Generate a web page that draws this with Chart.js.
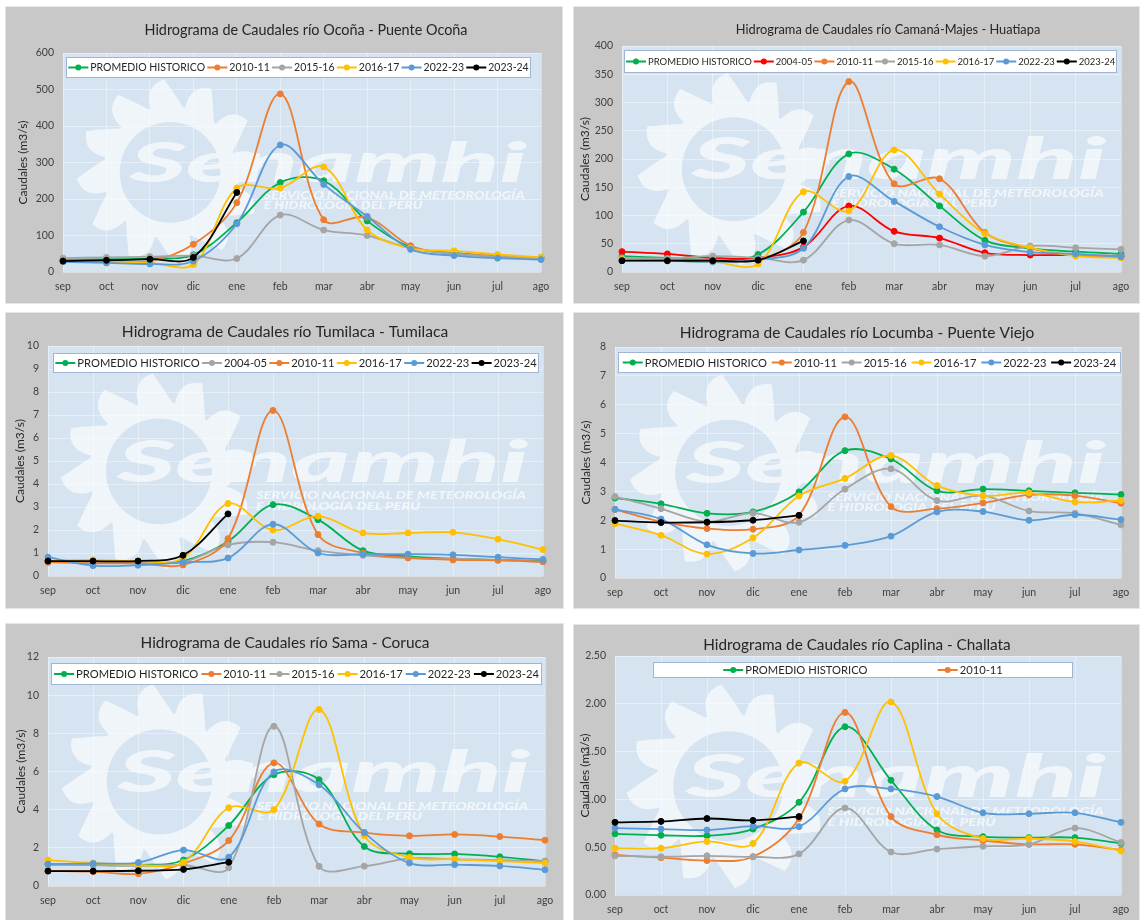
<!DOCTYPE html>
<html>
<head>
<meta charset="utf-8">
<script src="https://cdn.jsdelivr.net/npm/chart.js@4.4.1/dist/chart.umd.min.js"></script>
<style>
  html, body { margin: 0; padding: 0; background: #fff; }
  body { width: 1140px; height: 920px; position: relative; overflow: hidden; }
  .panel { position: absolute; background: #c8c8c8; box-shadow: 0 0 0 1px #e6e6e6; }
  .panel canvas { display: block; }
</style>
</head>
<body>
<script>
const months = ['sep', 'oct', 'nov', 'dic', 'ene', 'feb', 'mar', 'abr', 'may', 'jun', 'jul', 'ago'];

// río Ocoña - Puente Ocoña
const ocoTicks    = [0, 100, 200, 300, 400, 500, 600];
const ocoPromedio = [33, 35, 37, 47, 135, 245, 250, 140, 68, 52, 43, 40];
const oco2010     = [32, 30, 30, 76, 190, 488, 143, 150, 72, 50, 45, 38];
const oco2015     = [38, 40, 42, 45, 37, 156, 115, 100, 65, 50, 42, 38];
const oco2016     = [30, 28, 25, 20, 230, 230, 288, 115, 65, 58, 48, 40];
const oco2022     = [28, 25, 22, 30, 132, 348, 240, 152, 62, 45, 38, 34];
const oco2023     = [30, 32, 35, 40, 218, null, null, null, null, null, null, null];

// río Camaná-Majes - Huatiapa
const camTicks    = [0, 50, 100, 150, 200, 250, 300, 350, 400];
const camPromedio = [28, 25, 22, 31, 106, 209, 182, 117, 56, 42, 36, 32];
const cam2004     = [36, 32, 25, 25, 44, 117, 72, 60, 34, 30, 30, 28];
const cam2010     = [22, 22, 22, 22, 70, 337, 156, 165, 70, 42, 30, 28];
const cam2015     = [25, 24, 28, 25, 21, 92, 50, 48, 28, 46, 43, 40];
const cam2016     = [22, 20, 18, 14, 142, 108, 216, 138, 68, 43, 28, 25];
const cam2022     = [20, 20, 18, 22, 42, 169, 125, 80, 48, 35, 32, 27];
const cam2023     = [20, 20, 20, 21, 55, null, null, null, null, null, null, null];

// río Tumilaca - Tumilaca
const tumTicks    = [0, 1, 2, 3, 4, 5, 6, 7, 8, 9, 10];
const tumPromedio = [0.65, 0.6, 0.6, 0.65, 1.5, 3.1, 2.45, 1.1, 0.85, 0.75, 0.7, 0.65];
const tum2004     = [0.6, 0.6, 0.6, 0.6, 1.35, 1.47, 1.1, 0.9, 0.78, 0.75, 0.7, 0.62];
const tum2010     = [0.6, 0.55, 0.55, 0.48, 1.62, 7.2, 1.8, 1.0, 0.8, 0.7, 0.68, 0.62];
const tum2016     = [0.68, 0.7, 0.65, 0.78, 3.15, 2.0, 2.6, 1.87, 1.87, 1.9, 1.6, 1.15];
const tum2022     = [0.82, 0.45, 0.47, 0.6, 0.78, 2.25, 1.0, 0.95, 0.95, 0.92, 0.82, 0.72];
const tum2023     = [0.65, 0.65, 0.65, 0.9, 2.7, null, null, null, null, null, null, null];

// río Locumba - Puente Viejo
const locTicks    = [0, 1, 2, 3, 4, 5, 6, 7, 8];
const locPromedio = [2.77, 2.57, 2.24, 2.29, 2.98, 4.41, 4.12, 3.02, 3.08, 3.02, 2.95, 2.89];
const loc2010     = [2.37, 1.95, 1.71, 1.69, 2.17, 5.58, 2.47, 2.4, 2.6, 2.88, 2.85, 2.59];
const loc2015     = [2.82, 2.4, 1.95, 2.25, 1.93, 3.08, 3.78, 2.68, 2.85, 2.32, 2.24, 1.84];
const loc2016     = [1.88, 1.48, 0.83, 1.39, 2.84, 3.45, 4.24, 3.2, 2.85, 2.95, 2.63, 2.68];
const loc2022     = [2.38, 2.04, 1.15, 0.85, 0.97, 1.13, 1.45, 2.29, 2.3, 2.0, 2.19, 2.02];
const loc2023     = [1.99, 1.92, 1.93, 2.0, 2.17, null, null, null, null, null, null, null];

// río Sama - Coruca
const samTicks    = [0, 2, 4, 6, 8, 10, 12];
const samPromedio = [1.15, 1.1, 1.1, 1.36, 3.17, 5.83, 5.57, 2.07, 1.69, 1.68, 1.53, 1.3];
const sam2010     = [0.8, 0.75, 0.64, 1.18, 2.38, 6.45, 3.25, 2.8, 2.63, 2.7, 2.59, 2.4];
const sam2015     = [1.1, 1.1, 1.05, 1.1, 0.96, 8.37, 1.03, 1.04, 1.45, 1.4, 1.35, 1.3];
const sam2016     = [1.36, 1.2, 1.1, 1.25, 4.1, 4.0, 9.25, 2.64, 1.5, 1.4, 1.3, 1.2];
const sam2022     = [1.15, 1.18, 1.23, 1.88, 1.51, 5.98, 5.3, 2.8, 1.2, 1.12, 1.05, 0.85];
const sam2023     = [0.78, 0.78, 0.8, 0.87, 1.25, null, null, null, null, null, null, null];

// río Caplina - Challata
const capTicks    = [0, 0.5, 1, 1.5, 2, 2.5];
const capPromedio = [0.64, 0.625, 0.62, 0.69, 0.97, 1.76, 1.2, 0.68, 0.61, 0.6, 0.6, 0.54];
const cap2010     = [0.42, 0.39, 0.36, 0.4, 0.8, 1.91, 0.82, 0.63, 0.57, 0.53, 0.53, 0.47];
const cap2015     = [0.41, 0.4, 0.41, 0.4, 0.43, 0.91, 0.45, 0.48, 0.51, 0.53, 0.7, 0.55];
const cap2016     = [0.49, 0.49, 0.56, 0.54, 1.38, 1.19, 2.02, 0.85, 0.59, 0.59, 0.56, 0.46];
const cap2022     = [0.7, 0.69, 0.68, 0.72, 0.715, 1.11, 1.11, 1.03, 0.86, 0.85, 0.86, 0.76];
const cap2023     = [0.76, 0.77, 0.8, 0.78, 0.82, null, null, null, null, null, null, null];

// colores tipo Excel
const VERDE = '#00b050', ROJO = '#ff0000', NARANJA = '#ed7d31', GRIS = '#a5a5a5',
      AMARILLO = '#ffc000', AZUL = '#5b9bd5', NEGRO = '#000000';
const FUENTE = 'Lato, "Noto Sans", sans-serif';
const TEXTO = '#404040';
const REJILLA = 'rgba(255,255,255,0.4)';

// cajas: [x1, y1, x2, y2] en la página
const paneles = [
  { titulo: 'Hidrograma de Caudales río Ocoña - Puente Ocoña', ticks: ocoTicks,
    caja: [6, 7, 562, 303], area: [63, 53, 541, 272], tituloX: 306, tituloY: 30, tituloFs: 14.4, ejeX: 23,
    leyenda: [66, 57, 531, 78], leyendaFs: 10.5, enLeyenda: 6,
    series: [['PROMEDIO HISTORICO', ocoPromedio, VERDE], ['2010-11', oco2010, NARANJA],
             ['2015-16', oco2015, GRIS], ['2016-17', oco2016, AMARILLO],
             ['2022-23', oco2022, AZUL], ['2023-24', oco2023, NEGRO]] },
  { titulo: 'Hidrograma de Caudales río Camaná-Majes - Huatiapa', ticks: camTicks,
    caja: [574, 7, 1139, 303], area: [622, 46, 1121, 272], tituloX: 888, tituloY: 30, tituloFs: 12.8, ejeX: 585,
    leyenda: [624, 50, 1117, 73], leyendaFs: 9.5, enLeyenda: 7,
    series: [['PROMEDIO HISTORICO', camPromedio, VERDE], ['2004-05', cam2004, ROJO],
             ['2010-11', cam2010, NARANJA], ['2015-16', cam2015, GRIS],
             ['2016-17', cam2016, AMARILLO], ['2022-23', cam2022, AZUL],
             ['2023-24', cam2023, NEGRO]] },
  { titulo: 'Hidrograma de Caudales río Tumilaca - Tumilaca', ticks: tumTicks,
    caja: [6, 313, 563, 608], area: [48, 346, 543, 576], tituloX: 285, tituloY: 332, tituloFs: 15.6, ejeX: 20,
    leyenda: [53, 353, 539, 373], leyendaFs: 11.2, enLeyenda: 6,
    series: [['PROMEDIO HISTORICO', tumPromedio, VERDE], ['2004-05', tum2004, GRIS],
             ['2010-11', tum2010, NARANJA], ['2016-17', tum2016, AMARILLO],
             ['2022-23', tum2022, AZUL], ['2023-24', tum2023, NEGRO]] },
  { titulo: 'Hidrograma de Caudales río Locumba - Puente Viejo', ticks: locTicks,
    caja: [574, 313, 1139, 608], area: [615, 347, 1121, 578], tituloX: 857, tituloY: 333, tituloFs: 15.5, ejeX: 586,
    leyenda: [618, 352, 1121, 373], leyendaFs: 11.2, enLeyenda: 6,
    series: [['PROMEDIO HISTORICO', locPromedio, VERDE], ['2010-11', loc2010, NARANJA],
             ['2015-16', loc2015, GRIS], ['2016-17', loc2016, AMARILLO],
             ['2022-23', loc2022, AZUL], ['2023-24', loc2023, NEGRO]] },
  { titulo: 'Hidrograma de Caudales río Sama - Coruca', ticks: samTicks,
    caja: [6, 624, 563, 920], area: [48, 657, 545, 886], tituloX: 285, tituloY: 643, tituloFs: 15.4, ejeX: 21,
    leyenda: [51, 663, 542, 685], leyendaFs: 11.2, enLeyenda: 6,
    series: [['PROMEDIO HISTORICO', samPromedio, VERDE], ['2010-11', sam2010, NARANJA],
             ['2015-16', sam2015, GRIS], ['2016-17', sam2016, AMARILLO],
             ['2022-23', sam2022, AZUL], ['2023-24', sam2023, NEGRO]] },
  { titulo: 'Hidrograma de Caudales río Caplina - Challata', ticks: capTicks, decimales: 2,
    caja: [574, 625, 1139, 920], area: [615, 656, 1121, 895], tituloX: 857, tituloY: 645, tituloFs: 15.3, ejeX: 585,
    leyenda: [653, 662, 1073, 678], leyendaFs: 11.2, enLeyenda: 2,
    series: [['PROMEDIO HISTORICO', capPromedio, VERDE], ['2010-11', cap2010, NARANJA],
             ['2015-16', cap2015, GRIS], ['2016-17', cap2016, AMARILLO],
             ['2022-23', cap2022, AZUL], ['2023-24', cap2023, NEGRO]] },
];

// marca de agua Senamhi (aprox.), dibujada opaca y luego con transparencia
function marcaAgua(chart) {
  const a = chart.chartArea;
  const w = a.right - a.left, h = a.bottom - a.top;
  const off = document.createElement('canvas');
  off.width = chart.width; off.height = chart.height;
  const c = off.getContext('2d');
  c.fillStyle = '#fff'; c.strokeStyle = '#fff';

  // sol: llamas + anillo con hueco
  const cx = a.left + 0.224 * w, cy = a.top + 0.545 * h, r = 0.23 * h;
  for (let i = 0; i < 12; i++) {
    c.save();
    c.translate(cx, cy);
    c.rotate(-Math.PI / 2 + i * Math.PI / 6);
    c.beginPath();
    c.moveTo(r * 1.2, -r * 0.36);
    c.quadraticCurveTo(r * 1.7, -r * 0.55, r * 1.85, -r * 0.12);
    c.quadraticCurveTo(r * 1.55, r * 0.1, r * 1.2, r * 0.32);
    c.closePath();
    c.fill();
    c.restore();
  }
  c.beginPath();
  c.arc(cx, cy, r * 1.32, 0, Math.PI * 2);
  c.arc(cx, cy, r, 0, Math.PI * 2, true);
  c.fill('evenodd');

  const fs = 0.25 * h;
  c.font = `italic 900 ${fs}px ${FUENTE}`;
  const tw = c.measureText('Senamhi').width;
  c.save();
  c.translate(a.left + 0.14 * w, a.top + 0.59 * h);
  c.scale((0.83 * w) / tw, 1);
  c.fillText('Senamhi', 0, 0);
  c.restore();

  const fs2 = 0.048 * h;
  c.font = `italic 900 ${fs2}px ${FUENTE}`;
  const l1 = 'SERVICIO NACIONAL DE METEOROLOGÍA';
  const w1 = c.measureText(l1).width;
  c.save();
  c.translate(a.left + 0.42 * w, a.top + 0.667 * h);
  c.scale((0.546 * w) / w1, 1);
  c.fillText(l1, 0, 0);
  c.fillText('E HIDROLOGÍA DEL PERÚ', 0, 0.045 * h);
  c.restore();

  const ctx = chart.ctx;
  ctx.save();
  ctx.globalAlpha = 0.65;
  ctx.drawImage(off, 0, 0);
  ctx.restore();
}

function crearPlugin(p) {
  const [bx, by] = p.caja;
  return {
    id: 'panelExtra',
    beforeDraw(chart) {
      const { ctx, chartArea: a } = chart;
      ctx.save();
      ctx.fillStyle = '#d5e4f0';
      ctx.fillRect(a.left, a.top, a.right - a.left, a.bottom - a.top);
      // título del panel
      ctx.fillStyle = '#262626';
      ctx.font = `${p.tituloFs}px ${FUENTE}`;
      ctx.textAlign = 'center';
      ctx.textBaseline = 'middle';
      ctx.fillText(p.titulo, p.tituloX - bx, p.tituloY - by);
      ctx.restore();
    },
    beforeDatasetsDraw(chart) {
      marcaAgua(chart);
    },
    afterDatasetsDraw(chart) {
      const ctx = chart.ctx;
      const x1 = p.leyenda[0] - bx, y1 = p.leyenda[1] - by;
      const x2 = p.leyenda[2] - bx, y2 = p.leyenda[3] - by;
      ctx.save();
      ctx.fillStyle = '#ffffff';
      ctx.fillRect(x1, y1, x2 - x1, y2 - y1);
      ctx.strokeStyle = '#9fb5d1';
      ctx.lineWidth = 1;
      ctx.strokeRect(x1 + 0.5, y1 + 0.5, x2 - x1 - 1, y2 - y1 - 1);

      const items = chart.data.datasets.slice(0, p.enLeyenda);
      ctx.font = `${p.leyendaFs}px ${FUENTE}`;
      const anchos = items.map(d => 22 + ctx.measureText(d.label).width);
      const total = anchos.reduce((s, v) => s + v, 0);
      const hueco = Math.max(2, ((x2 - x1) - total) / (items.length + 1));
      const ym = (y1 + y2) / 2;
      let x = x1 + hueco;
      items.forEach((d, i) => {
        ctx.strokeStyle = d.borderColor;
        ctx.lineWidth = 2;
        ctx.beginPath(); ctx.moveTo(x, ym); ctx.lineTo(x + 20, ym); ctx.stroke();
        ctx.fillStyle = d.borderColor;
        ctx.beginPath(); ctx.arc(x + 10, ym, 3, 0, Math.PI * 2); ctx.fill();
        ctx.fillStyle = '#262626';
        ctx.textBaseline = 'middle';
        ctx.textAlign = 'left';
        ctx.fillText(d.label, x + 22, ym + 0.5);
        x += anchos[i] + hueco;
      });
      ctx.restore();
    }
  };
}

paneles.forEach(p => {
  const [bx1, by1, bx2, by2] = p.caja;
  const [pl, pt, pr, pb] = p.area;
  const W = bx2 - bx1, H = by2 - by1;

  const div = document.createElement('div');
  div.className = 'panel';
  Object.assign(div.style, { left: bx1 + 'px', top: by1 + 'px', width: W + 'px', height: H + 'px' });
  const cv = document.createElement('canvas');
  cv.width = W; cv.height = H;
  div.appendChild(cv);
  document.body.appendChild(div);

  const n = p.series.length;
  const t = p.ticks;

  new Chart(cv, {
    type: 'line',
    data: {
      labels: months,
      datasets: p.series.map(([label, data, color], i) => ({
        label, data,
        borderColor: color,
        backgroundColor: color,
        pointBackgroundColor: color,
        pointBorderColor: color,
        pointRadius: 3,
        pointBorderWidth: 1,
        borderWidth: 1.8,
        tension: 0.35,
        fill: false,
        order: n - i,
      })),
    },
    options: {
      responsive: false,
      animation: false,
      devicePixelRatio: 1,
      layout: { padding: { left: 0, top: pt - by1, bottom: 0, right: W - (pr - bx1) } },
      plugins: {
        legend: { display: false },
        tooltip: { enabled: false },
        title: { display: false },
      },
      scales: {
        x: {
          offset: false,
          grid: { color: REJILLA, drawTicks: false },
          border: { display: false },
          ticks: { color: TEXTO, font: { family: FUENTE, size: 10.5 }, padding: 8, autoSkip: false, maxRotation: 0 },
          afterFit(s) { s.height = H - (pb - by1); },
        },
        y: {
          min: t[0],
          max: t[t.length - 1],
          grid: { color: REJILLA, drawTicks: false },
          border: { display: false },
          ticks: {
            stepSize: t[1] - t[0],
            color: TEXTO,
            font: { family: FUENTE, size: 10.5 },
            padding: 9,
            callback: v => p.decimales ? Number(v).toFixed(p.decimales) : v,
          },
          title: {
            display: true,
            text: 'Caudales (m3/s)',
            color: '#262626',
            font: { family: FUENTE, size: 12, lineHeight: 1.2 },
            padding: { top: (p.ejeX - bx1) - 7.2, bottom: 0 },
          },
          afterFit(s) { s.width = pl - bx1; },
        },
      },
    },
    plugins: [crearPlugin(p)],
  });
});
</script>
</body>
</html>
